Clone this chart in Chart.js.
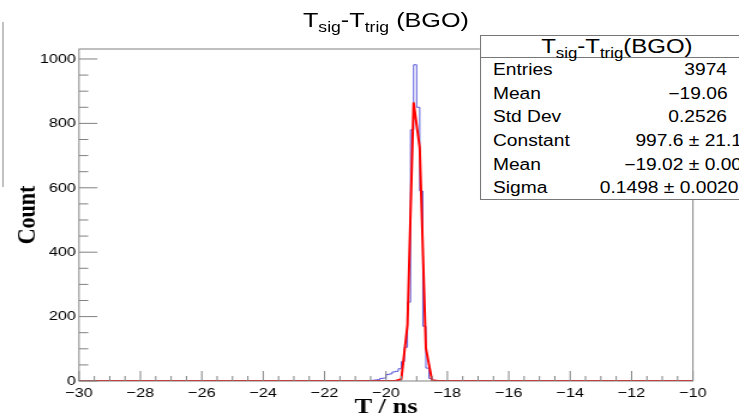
<!DOCTYPE html>
<html>
<head>
<meta charset="utf-8">
<script src="https://cdn.jsdelivr.net/npm/chart.js@4.4.1/dist/chart.umd.min.js"></script>
<style>
  html, body { margin: 0; padding: 0; background: #fff; width: 739px; height: 420px; overflow: hidden; }
  /* the reference is stretched horizontally, so draw at 616px and scale */
  #stage { position: absolute; left: 0; top: 0; width: 616px; height: 420px; overflow: hidden;
           transform: scaleX(1.19968); transform-origin: 0 0;
           font-family: "Liberation Sans", Arial, sans-serif; color: #000; }
  #stage canvas { position: absolute; left: 0; top: 0; }
  .txt { position: absolute; white-space: nowrap; }
  .sub { font-size: 0.7em; vertical-align: -5px; }
  #title { top: 9px; left: 0; width: 643.4px; text-align: center; font-size: 21px; line-height: 21px; }
  #statbox { position: absolute; left: 400px; top: 35px; width: 240px; height: 165px;
             border: 1px solid #777; background: #fff; box-sizing: border-box; }
  #statline { position: absolute; left: 400px; top: 57px; width: 240px; height: 1px; background: #777; }
  #stathead { top: 36px; left: 400px; width: 228.4px; text-align: center; font-size: 20px; line-height: 20px; }
  .row { font-size: 16px; line-height: 16px; }
  #leftline { position: absolute; left: 1.7px; top: 22px; width: 1px; height: 165px; background: #999; }
</style>
</head>
<body>
<div id="stage">
  <canvas id="chart" width="616" height="420"></canvas>
  <div id="leftline"></div>
  <div id="title" class="txt">T<span class="sub">sig</span>-T<span class="sub">trig</span> (BGO)</div>
  <div id="statbox"></div>
  <div id="statline"></div>
  <div id="stathead" class="txt">T<span class="sub">sig</span>-T<span class="sub">trig</span>(BGO)</div>
</div>
<script>
// histogram: 0.1 ns bins from -30 to -10, only the peak region has entries
const histLow = -30;
const histHigh = -10;
const binWidth = 0.1;
const firstFilledEdge = -20.5;
const binCounts = [2, 3, 4, 8, 9, 20, 22, 28, 30, 38, 60, 105, 245, 780, 982, 850, 590, 170, 40, 8, 2];

// gaussian fit as drawn on the plot
const fitT = [-30, -19.9, -19.7, -19.5, -19.3, -19.1, -18.9, -18.7, -18.5, -18.3, -10];
const fitCounts = [0, 0, 0, 6, 174, 865, 724, 102, 2, 0, 0];

// axis labels
const xTickValues = [-30, -28, -26, -24, -22, -20, -18, -16, -14, -12, -10];
const yTickValues = [0, 200, 400, 600, 800, 1000];

// stats box
const statsLabels = ['Entries', 'Mean', 'Std Dev', 'Constant', 'Mean', 'Sigma'];
const statsValues = ['3974', '\u221219.06', '0.2526', '997.6 \u00b1 21.1', '\u221219.02 \u00b1 0.00', '0.1498 \u00b1 0.0020'];
const statsRightEdge = [606, 606.5, 606, 618.5, 618.5, 615.5];

const nBins = Math.round((histHigh - histLow) / binWidth);
const firstIdx = Math.round((firstFilledEdge - histLow) / binWidth);
const histPoints = [];
for (let i = 0; i <= nBins; i++) {
  const k = i - firstIdx;
  const c = (k >= 0 && k < binCounts.length) ? binCounts[k] : 0;
  histPoints.push({x: Math.round((histLow + i * binWidth) * 10) / 10, y: c});
}
const fitPoints = fitT.map((t, i) => ({x: t, y: fitCounts[i]}));

// stats rows as text
const stage = document.getElementById('stage');
statsLabels.forEach((lab, i) => {
  const top = 62.2 + i * 23.6;
  const l = document.createElement('div');
  l.className = 'txt row';
  l.style.left = '410.9px';
  l.style.top = top + 'px';
  l.textContent = lab;
  stage.appendChild(l);
  const v = document.createElement('div');
  v.className = 'txt row';
  v.style.right = (616 - statsRightEdge[i]) + 'px';
  v.style.top = top + 'px';
  v.textContent = statsValues[i];
  stage.appendChild(v);
});

const axisGrey = '#808080';
const tickFont = {family: 'Liberation Sans', size: 13.5};
const titleFont = {family: 'Liberation Serif', weight: 'bold', size: 22, lineHeight: 1};

// ROOT style frame with ticks pointing inwards
const frame = {
  id: 'frame',
  afterDatasetsDraw(chart) {
    const {ctx, chartArea: a, scales: {x, y}} = chart;
    ctx.save();
    ctx.strokeStyle = axisGrey;
    ctx.lineWidth = 1;
    ctx.strokeRect(a.left, a.top, a.right - a.left, a.bottom - a.top);
    ctx.beginPath();
    for (let v = histLow; v <= histHigh + 1e-9; v += 0.5) {
      const px = x.getPixelForValue(v);
      const len = Math.abs(v % 2) < 1e-6 ? 10 : 5;
      ctx.moveTo(px, a.bottom);
      ctx.lineTo(px, a.bottom - len);
    }
    for (let v = 0; v <= 1000; v += 50) {
      const py = y.getPixelForValue(v);
      const len = v % 200 === 0 ? 15.3 : 7.7;
      ctx.moveTo(a.left, py);
      ctx.lineTo(a.left + len, py);
    }
    ctx.stroke();
    ctx.restore();
  }
};

new Chart(document.getElementById('chart'), {
  type: 'line',
  data: {
    datasets: [
      {data: fitPoints, borderColor: '#ff0000', borderWidth: 2, pointRadius: 0, tension: 0},
      {data: histPoints, borderColor: 'rgba(60,60,215,0.85)', borderWidth: 1, pointRadius: 0, stepped: 'before'}
    ]
  },
  options: {
    responsive: false,
    animation: false,
    layout: {padding: {left: 0, top: 49, right: 38.4, bottom: 0}},
    plugins: {legend: {display: false}, tooltip: {enabled: false}, title: {display: false}},
    scales: {
      x: {
        type: 'linear', min: histLow, max: histHigh,
        grid: {display: false, drawTicks: false},
        border: {display: false},
        afterBuildTicks(s) { s.ticks = xTickValues.map(v => ({value: v})); },
        ticks: {autoSkip: false, maxRotation: 0, padding: 4, color: '#000', font: tickFont,
                callback: v => v < 0 ? '\u2212' + Math.abs(v) : String(v)},
        title: {display: true, text: 'T / ns', color: '#000', font: titleFont, padding: {top: 0, bottom: 1.5}},
        afterFit(s) { s.height = 39; }
      },
      y: {
        min: 0, max: 1031,
        grid: {display: false, drawTicks: false},
        border: {display: false},
        afterBuildTicks(s) { s.ticks = yTickValues.map(v => ({value: v})); },
        ticks: {padding: 2.5, color: '#000', font: tickFont, callback: v => String(v)},
        title: {display: true, text: 'Count', color: '#000', font: titleFont, padding: {top: 12, bottom: 0}},
        afterFit(s) { s.width = 65.85; }
      }
    }
  },
  plugins: [frame]
});
</script>
</body>
</html>
